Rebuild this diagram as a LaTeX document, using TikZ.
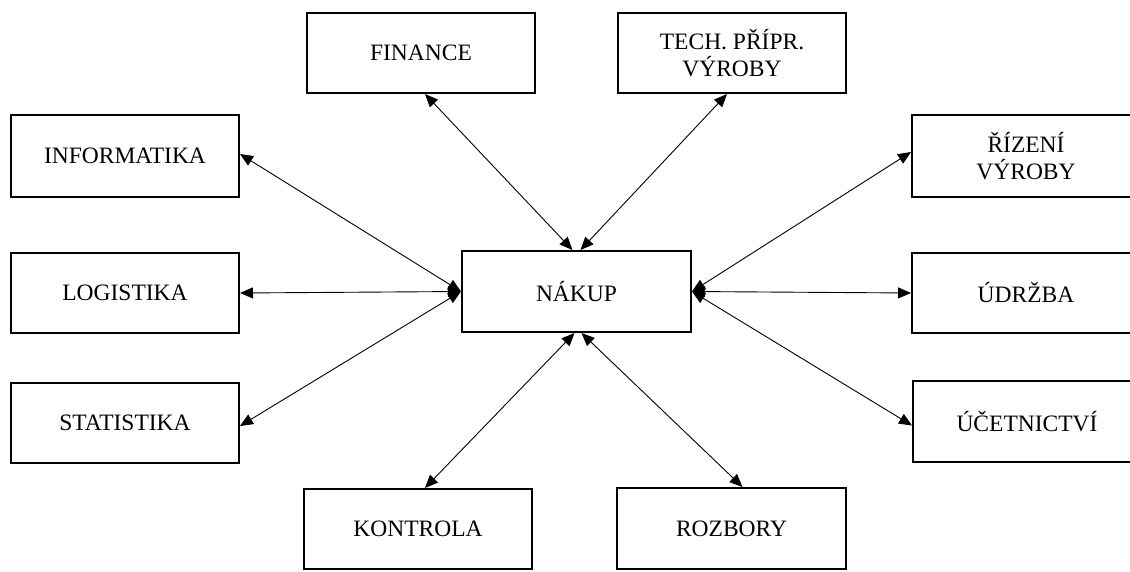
\documentclass[tikz,border=0pt]{standalone}
\usepackage{fontspec}
\setmainfont{Liberation Serif}
\usetikzlibrary{arrows.meta}

\tikzset{
  dept/.style={draw, line width=2pt, rectangle, inner sep=0pt,
    minimum width=228pt, minimum height=80pt, align=center,
    font=\fontsize{23.5pt}{27pt}\selectfont},
  link/.style={line width=0.9pt, {Triangle[length=13pt,width=11pt]}-{Triangle[length=13pt,width=11pt]}}
}

\begin{document}
\begin{tikzpicture}[x=1pt, y=-1pt]
  \useasboundingbox (0,0) rectangle (1130,571);
  \clip (0,0) rectangle (1130,571);

  % central department
  \node[dept, minimum width=229pt, minimum height=81pt] (nak) at (576.5,291.5) {NÁKUP};

  % top row
  \node[dept] (fin)  at (421,53) {FINANCE};
  \node[dept] (tech) at (732,53) {TECH. PŘÍPR.\\VÝROBY};

  % left column
  \node[dept, minimum height=82pt] (inf)  at (125,156) {INFORMATIKA};
  \node[dept] (log)  at (125,293) {LOGISTIKA};
  \node[dept] (stat) at (125,423) {STATISTIKA};

  % right column (runs off the right edge)
  \node[dept, minimum height=82pt] (riz) at (1026,156) {ŘÍZENÍ\\VÝROBY};
  \node[dept] (udr) at (1026,293) {ÚDRŽBA};
  \node[dept, minimum height=81pt] (uce) at (1027,421.5) {ÚČETNICTVÍ};

  % bottom row
  \node[dept] (kon) at (418,529) {KONTROLA};
  \node[dept, minimum width=229pt, minimum height=81pt] (roz) at (731.5,528.5) {ROZBORY};

  % two-way links to NÁKUP
  \draw[link] ([xshift=4pt]fin.south) -- ([xshift=-4pt]nak.north);
  \draw[link] ([xshift=-5pt]tech.south) -- ([xshift=4pt]nak.north);

  \draw[link] ([yshift=2pt]inf.east) -- (nak.west);
  \draw[link] (log.east) -- (nak.west);
  \draw[link] ([yshift=-3pt]stat.east) -- (nak.west);

  \draw[link] ([yshift=4pt]riz.west) -- (nak.east);
  \draw[link] (udr.west) -- (nak.east);
  \draw[link] ([yshift=-4pt]uce.west) -- (nak.east);

  \draw[link] ([xshift=7pt]kon.north) -- ([xshift=-2pt]nak.south);
  \draw[link] ([xshift=11pt]roz.north) -- ([xshift=5pt]nak.south);
\end{tikzpicture}
\end{document}
